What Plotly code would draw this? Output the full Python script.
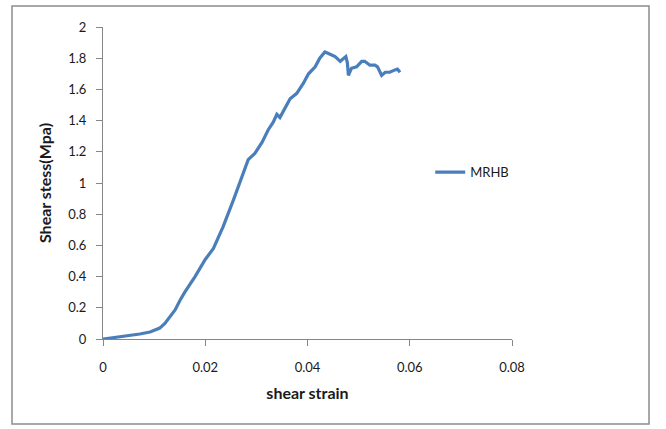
import plotly.graph_objects as go

# shear strain / shear stress readings for the MRHB specimen
strain = [0.0, 0.0033, 0.0072, 0.0092, 0.0102, 0.0111, 0.0121, 0.0131, 0.0141, 0.0151,
          0.016, 0.018, 0.019, 0.02, 0.0216, 0.0235, 0.0255, 0.0274, 0.0284, 0.0297,
          0.0311, 0.0323, 0.0333, 0.034, 0.0346, 0.0356, 0.0366, 0.0379, 0.0392, 0.0402,
          0.0415, 0.0424, 0.0434, 0.0441, 0.0447, 0.0454, 0.0464, 0.047, 0.0475, 0.0478,
          0.048, 0.0486, 0.0496, 0.0506, 0.0512, 0.0522, 0.0532, 0.0537, 0.0545, 0.0552,
          0.0561, 0.0571, 0.0576, 0.0581]
stress = [0.0, 0.013, 0.032, 0.045, 0.058, 0.07, 0.10, 0.14, 0.186, 0.25,
          0.30, 0.40, 0.46, 0.51, 0.58, 0.72, 0.89, 1.06, 1.15, 1.19,
          1.26, 1.34, 1.39, 1.44, 1.42, 1.48, 1.54, 1.575, 1.64, 1.70,
          1.745, 1.80, 1.84, 1.83, 1.82, 1.81, 1.78, 1.80, 1.81, 1.77,
          1.69, 1.735, 1.745, 1.78, 1.78, 1.755, 1.755, 1.745, 1.69, 1.71,
          1.71, 1.725, 1.73, 1.71]

x_ticks = [0, 0.02, 0.04, 0.06, 0.08]
x_tick_text = ["0", "0.02", "0.04", "0.06", "0.08"]
y_ticks = [0, 0.2, 0.4, 0.6, 0.8, 1, 1.2, 1.4, 1.6, 1.8, 2]
y_tick_text = ["0", "0.2", "0.4", "0.6", "0.8", "1", "1.2", "1.4", "1.6", "1.8", "2"]

fig = go.Figure()
fig.add_trace(go.Scatter(
    x=strain, y=stress, mode="lines", name="MRHB",
    line=dict(color="#4A7EBB", width=3.2),
))

axis_color = "#868686"
fig.update_layout(
    width=666, height=429,
    margin=dict(l=103, r=154, t=27, b=90),
    paper_bgcolor="white", plot_bgcolor="white",
    font=dict(family="Lato, Liberation Sans, sans-serif", size=13, color="#1a1a1a"),
    showlegend=True,
    legend=dict(x=0.8, y=0.535, xanchor="left", yanchor="middle",
                bgcolor="rgba(0,0,0,0)", font=dict(size=13)),
    xaxis=dict(range=[0, 0.08], tickvals=x_ticks, ticktext=x_tick_text,
               showgrid=False, zeroline=False, showline=True, linecolor=axis_color,
               ticks="outside", ticklen=6, tickcolor=axis_color,
               ticklabelstandoff=10,
               title=dict(text="<b>shear strain</b>", standoff=14)),
    yaxis=dict(range=[0, 2], tickvals=y_ticks, ticktext=y_tick_text,
               showgrid=False, zeroline=False, showline=True, linecolor=axis_color,
               ticks="outside", ticklen=6, tickcolor=axis_color,
               ticklabelstandoff=7,
               title=dict(text="<b>Shear stess(Mpa)</b>", standoff=12)),
    shapes=[dict(type="rect", xref="paper", yref="paper",
                 x0=-0.2225, x1=1.335, y0=-0.2724, y1=1.067,
                 line=dict(color="#8c8c8c", width=1.5), layer="below")],
)

fig.write_html("out.html")
